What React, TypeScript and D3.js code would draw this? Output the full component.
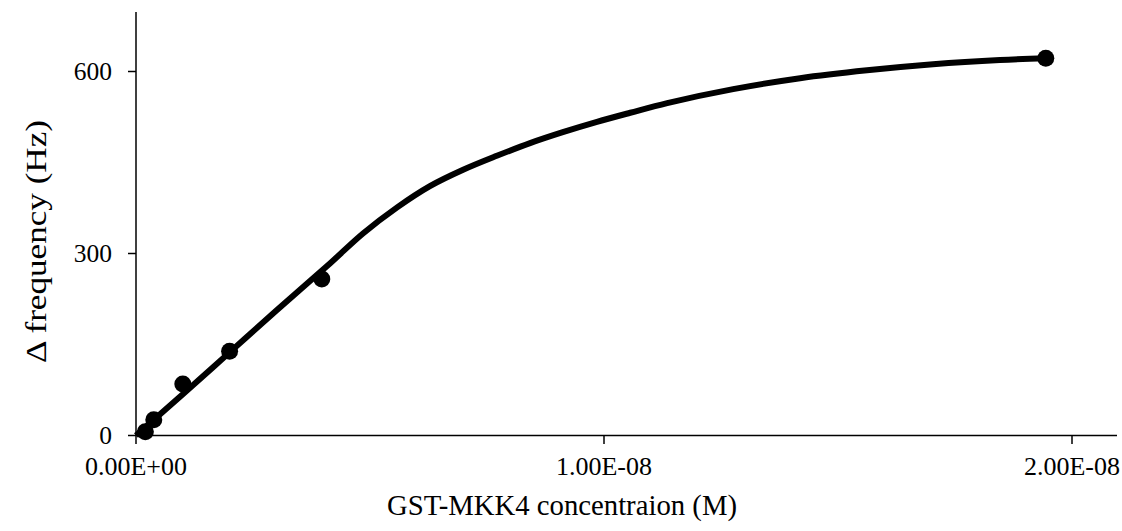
import React from "react";
import * as d3 from "d3";

// Measured data points (concentration in M, Δ frequency in Hz)
const concentrations = [0.2e-9, 0.38e-9, 1.0e-9, 2.0e-9, 3.97e-9, 1.944e-8];
const frequencies = [6, 26, 85, 139, 258, 622];

// Fitted curve
const fitX = [0, 1.0e-9, 2.0e-9, 3.0e-9, 4.15e-9, 4.85e-9, 5.58e-9, 6.28e-9, 6.99e-9, 7.71e-9, 8.42e-9, 9.12e-9, 9.85e-9, 10.56e-9, 11.35e-9, 12.76e-9, 14.19e-9, 15.62e-9, 17.03e-9, 18.46e-9, 19.44e-9];
const fitY = [0, 68, 137, 206, 284, 333, 376, 411, 438, 461, 482, 500, 517, 532, 548, 571, 589, 602, 612, 619, 622];

const xTicks = [0, 1e-8, 2e-8];
const xTickLabels = ["0.00E+00", "1.00E-08", "2.00E-08"];
const yTicks = [0, 300, 600];

const W = 1122;
const H = 531;

export default function App() {
  const x = d3.scaleLinear().domain([0, 2e-8]).range([136, 1072]);
  const y = d3.scaleLinear().domain([0, 600]).range([435.5, 71.5]);
  const line = d3
    .line<number>()
    .x((_, i) => x(fitX[i]))
    .y((d) => y(d))
    .curve(d3.curveCatmullRom.alpha(0.5));
  const font = "'Liberation Serif', 'Times New Roman', serif";
  return (
    <svg width={W} height={H} style={{ position: "absolute", left: 0, top: 0, background: "#fff" }} fontFamily={font}>
      {/* axes */}
      <line x1={136} x2={136} y1={12} y2={436} stroke="#000" strokeWidth={1.5} />
      <line x1={136} x2={1117} y1={435.5} y2={435.5} stroke="#000" strokeWidth={1.5} />
      {yTicks.map((t) => (
        <g key={"y" + t}>
          <line x1={128} x2={136} y1={y(t)} y2={y(t)} stroke="#000" strokeWidth={1.5} />
          <text x={112} y={y(t)} dy="0.35em" textAnchor="end" fontSize={25.5}>
            {t}
          </text>
        </g>
      ))}
      {xTicks.map((t, i) => (
        <g key={"x" + t}>
          <line x1={x(t)} x2={x(t)} y1={435.5} y2={444} stroke="#000" strokeWidth={1.5} />
          <text x={x(t)} y={475} textAnchor="middle" fontSize={26}>
            {xTickLabels[i]}
          </text>
        </g>
      ))}
      <path d={line(fitY) || ""} fill="none" stroke="#000" strokeWidth={6} />
      {concentrations.map((c, i) => (
        <circle key={i} cx={x(c)} cy={y(frequencies[i])} r={8.5} fill="#000" />
      ))}
      <text x={562} y={515} textAnchor="middle" fontSize={30} textLength={350} lengthAdjust="spacingAndGlyphs">
        GST-MKK4 concentraion (M)
      </text>
      <text
        transform="translate(46,241.5) rotate(-90)"
        textAnchor="middle"
        fontSize={30}
        textLength={243}
        lengthAdjust="spacingAndGlyphs"
      >
        Δ frequency (Hz)
      </text>
    </svg>
  );
}
